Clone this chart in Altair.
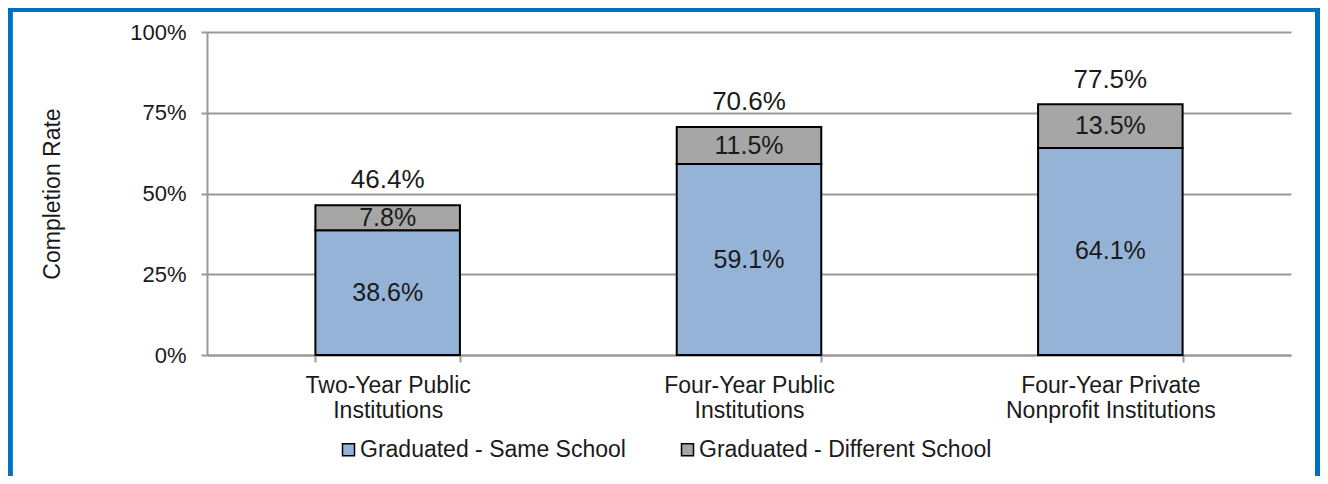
import altair as alt
import pandas as pd

categories = ["Two-Year Public|Institutions", "Four-Year Public|Institutions",
              "Four-Year Private|Nonprofit Institutions"]
series = ["Graduated - Same School", "Graduated - Different School"]
same_school = [38.6, 59.1, 64.1]
diff_school = [7.8, 11.5, 13.5]
totals = [46.4, 70.6, 77.5]
y_ticks = [0, 25, 50, 75, 100]

colors = ["#95B3D7", "#A6A6A6"]
FONT = "Liberation Sans"
TXT = "#1a1a1a"

rows = []
for i, c in enumerate(categories):
    rows.append({"category": c, "series": series[0], "order": 0, "value": same_school[i]})
    rows.append({"category": c, "series": series[1], "order": 1, "value": diff_school[i]})
df = pd.DataFrame(rows)
tot_df = pd.DataFrame({"category": categories, "total": totals})

W, H = 1084, 323

xscale = alt.Scale(domain=categories, paddingInner=0.6, paddingOuter=0.3)
yscale = alt.Scale(domain=[0, 100], nice=False)

x_enc = alt.X("category:N", scale=xscale, sort=categories, title=None,
              axis=alt.Axis(labelExpr="split(datum.label, '|')", labelAngle=0,
                            labelFont=FONT, labelFontSize=23, labelColor=TXT,
                            labelLineHeight=25, labelPadding=12, labelBaseline="top",
                            labelLimit=0,
                            tickBand="extent", tickSize=7, tickColor="#999999",
                            tickWidth=2, domainColor="#999999", domainWidth=2,
                            grid=False))

base = alt.Chart(df).transform_stack(
    stack="value", groupby=["category"], sort=[alt.SortField("order")], as_=["v0", "v1"]
).transform_calculate(mid="(datum.v0 + datum.v1) / 2",
                      label="format(datum.value, '.1f') + '%'")

bars = base.mark_bar(stroke="black", strokeWidth=2).encode(
    x=x_enc,
    y=alt.Y("v0:Q", scale=yscale, title="Completion Rate",
            axis=alt.Axis(values=y_ticks, labelExpr="datum.value + '%'",
                          labelFont=FONT, labelFontSize=22, labelColor=TXT,
                          labelPadding=15, tickSize=6, tickColor="#999999", tickWidth=2,
                          domainColor="#999999", domainWidth=2,
                          grid=True, gridColor="#999999", gridWidth=2,
                          titleFont=FONT, titleFontSize=23, titleFontWeight="normal",
                          titleColor=TXT, titleX=-155, titleY=H / 2, titleAngle=-90,
                          titleAlign="center", titleBaseline="middle")),
    y2="v1:Q",
    color=alt.Color("series:N", scale=alt.Scale(domain=series, range=colors),
                    legend=alt.Legend(title=None, orient="none", direction="horizontal",
                                      legendX=130, legendY=406, symbolType="square",
                                      symbolSize=144, symbolStrokeColor="black",
                                      symbolStrokeWidth=1.5, labelFont=FONT,
                                      labelFontSize=23, labelColor=TXT, labelOffset=0,
                                      labelLimit=0, columnPadding=50, padding=0)),
)

inner = base.mark_text(font=FONT, fontSize=25, color=TXT, baseline="middle").encode(
    x=alt.X("category:N", scale=xscale, sort=categories),
    y=alt.Y("mid:Q", scale=yscale),
    text="label:N",
)

top = alt.Chart(tot_df).transform_calculate(
    label="format(datum.total, '.1f') + '%'"
).mark_text(font=FONT, fontSize=26, color=TXT, baseline="alphabetic", dy=-17).encode(
    x=alt.X("category:N", scale=xscale, sort=categories),
    y=alt.Y("total:Q", scale=yscale),
    text="label:N",
)

frame = alt.Chart(tot_df).mark_rect(fill=None, stroke="#0070C0", strokeWidth=5).encode(
    x=alt.value(-197), x2=alt.value(1110.5), y=alt.value(-22.5), y2=alt.value(520)
)

chart = alt.layer(bars, inner, top, frame).properties(
    width=W, height=H,
    autosize=alt.AutoSizeParams(type="none"),
    padding={"left": 199, "top": 24, "right": 29, "bottom": 121},
    background="white",
).configure_view(stroke=None)

chart.save("out.html", embed_options={"renderer": "svg", "actions": False})
